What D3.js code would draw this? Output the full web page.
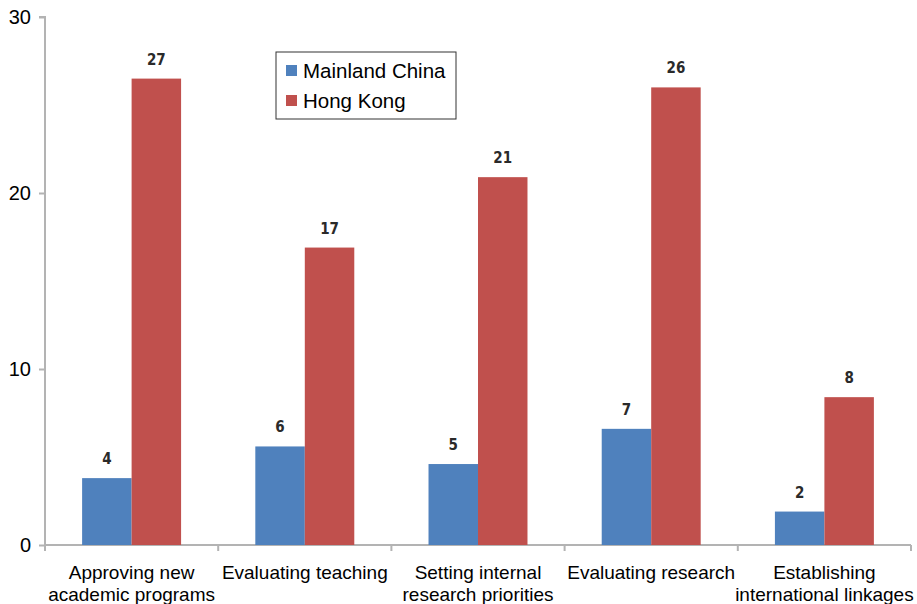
<!DOCTYPE html>
<html>
<head>
<meta charset="utf-8">
<script src="https://cdn.jsdelivr.net/npm/d3@7"></script>
<style>
  html, body { margin: 0; padding: 0; background: #fff; }
  svg { display: block; }
</style>
</head>
<body>
<svg id="chart" width="917" height="604"></svg>
<script>
// Categories (two-line labels) and series values
const categories = [
  ["Approving new", "academic programs"],
  ["Evaluating teaching"],
  ["Setting internal", "research priorities"],
  ["Evaluating research"],
  ["Establishing", "international linkages"]
];
const seriesNames = ["Mainland China", "Hong Kong"];
const mainlandChina = [3.8, 5.6, 4.6, 6.6, 1.9];
const hongKong = [26.5, 16.9, 20.9, 26.0, 8.4];
const yTicks = [0, 10, 20, 30];
const colors = ["#4F81BD", "#C0504D"];

const svg = d3.select("#chart");
const plotLeft = 45, plotRight = 911, plotTop = 17, plotBottom = 545;

const keys = categories.map((c, i) => i);
const x = d3.scaleBand().domain(keys).range([plotLeft, plotRight]).paddingInner(0).paddingOuter(0);
const xSub = d3.scaleBand().domain([0, 1]).range([0, x.bandwidth()]).paddingInner(0).paddingOuter(0.75);
const y = d3.scaleLinear().domain([0, 30]).range([plotBottom, plotTop]);

const axisColor = "#b3b3b3";
const sans = "Arial, 'Liberation Sans', sans-serif";

// Y axis
const yAxis = svg.append("g").attr("transform", `translate(${plotLeft},0)`)
  .call(d3.axisLeft(y).tickValues(yTicks).tickSize(6).tickPadding(8).tickFormat(d3.format("d")));
yAxis.select(".domain").attr("stroke", axisColor).attr("stroke-width", 2).attr("d", `M-6,${plotTop}H0V${plotBottom}`);
yAxis.selectAll(".tick line").attr("stroke", axisColor).attr("stroke-width", 2);
yAxis.selectAll(".tick text").attr("fill", "#000").style("font-family", sans).style("font-size", "20px");

// X axis with ticks at category boundaries
const xAxis = svg.append("g").attr("transform", `translate(0,${plotBottom})`);
xAxis.append("line").attr("x1", plotLeft).attr("x2", plotRight).attr("y1", 0).attr("y2", 0)
  .attr("stroke", axisColor).attr("stroke-width", 2);
const boundaries = keys.map(k => x(k)).concat([plotRight]);
xAxis.selectAll("line.tk").data(boundaries).join("line").attr("class", "tk")
  .attr("x1", d => d).attr("x2", d => d).attr("y1", 0).attr("y2", 6)
  .attr("stroke", axisColor).attr("stroke-width", 2);

// Category labels
const catG = svg.append("g");
categories.forEach((lines, i) => {
  const cx = x(i) + x.bandwidth() / 2;
  const t = catG.append("text").attr("x", cx).attr("y", 579).attr("text-anchor", "middle")
    .style("font-family", sans).style("font-size", "19px").attr("fill", "#000");
  lines.forEach((ln, j) => {
    t.append("tspan").attr("x", cx).attr("dy", j === 0 ? 0 : 22).text(ln);
  });
});

// Bars with value labels
const series = [mainlandChina, hongKong];
const barG = svg.append("g");
series.forEach((vals, s) => {
  barG.selectAll(null).data(vals).join("rect")
    .attr("x", (d, i) => x(i) + xSub(s))
    .attr("width", xSub.bandwidth())
    .attr("y", d => y(d))
    .attr("height", d => plotBottom - y(d))
    .attr("fill", colors[s]);
  barG.selectAll(null).data(vals).join("text")
    .attr("x", (d, i) => x(i) + xSub(s) + xSub.bandwidth() / 2)
    .attr("y", d => y(d) - 14)
    .attr("text-anchor", "middle")
    .style("font-family", "'DejaVu Sans Condensed', 'Liberation Sans Narrow', sans-serif")
    .style("font-size", "15px").style("font-weight", "bold").attr("fill", "#2a2a2a")
    .text(d => d3.format(".0f")(d));
});

// Legend
const lg = svg.append("g").attr("transform", "translate(276,52)");
lg.append("rect").attr("x", 0).attr("y", 0).attr("width", 180).attr("height", 67)
  .attr("fill", "#fff").attr("stroke", "#333").attr("stroke-width", 1);
seriesNames.forEach((n, i) => {
  const yy = 19 + i * 30;
  lg.append("rect").attr("x", 10).attr("y", yy - 6).attr("width", 11).attr("height", 11).attr("fill", colors[i]);
  lg.append("text").attr("x", 27).attr("y", yy + 7)
    .style("font-family", sans).style("font-size", "20.5px")
    .attr("fill", "#000").text(n);
});
</script>
</body>
</html>
